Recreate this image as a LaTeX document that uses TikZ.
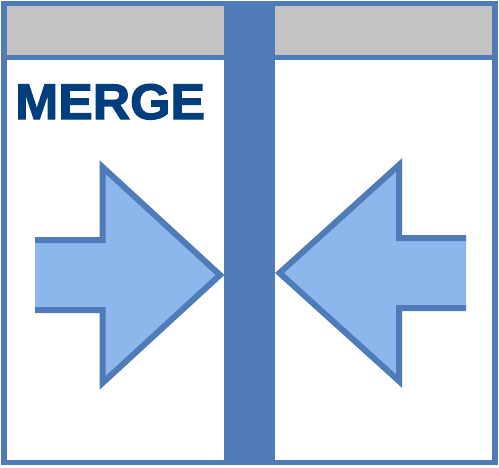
\documentclass[tikz,border=0pt]{standalone}
\usepackage{fontspec}
\setmainfont{Liberation Sans}
\newfontfamily\heavyfont[FakeBold=2.5,FakeStretch=1.035]{Liberation Sans Bold}
\definecolor{frameblue}{RGB}{79,124,184}
\definecolor{arrowfill}{RGB}{140,182,236}
\definecolor{headgray}{RGB}{195,195,195}
\definecolor{textblue}{RGB}{0,62,126}
\begin{document}
\begin{tikzpicture}[x=1pt,y=-1pt,
  panel/.style={fill=white},
  header/.style={fill=headgray},
  arrowbody/.style={fill=arrowfill},
  arrowline/.style={draw=frameblue,line width=6pt,line join=miter,miter limit=10}]
\useasboundingbox (0,0) rectangle (499,467);
% outer blue frame
\fill[frameblue] (1,1) rectangle (498,465);
% left column
\fill[header] (7,6) rectangle (224,55);
\fill[panel] (7,60) rectangle (224,460);
% right column
\fill[header] (275,6) rectangle (492,55);
\fill[panel] (275,60) rectangle (492,460);
% title
\node[anchor=base west,inner sep=0pt,text=textblue,font=\fontsize{50}{50}\heavyfont] (title) at (15,119) {MERGE};
% left arrow
\fill[arrowbody] (35,240) -- (102.5,240) -- (102.5,167) -- (220,275) -- (102.5,383) -- (102.5,310) -- (35,310) -- cycle;
\draw[arrowline] (35,240) -- (102.5,240) -- (102.5,167) -- (220,275) -- (102.5,383) -- (102.5,310) -- (35,310);
% right arrow
\fill[arrowbody] (466,238) -- (399,238) -- (399,165) -- (279.5,273) -- (399,381) -- (399,308) -- (466,308) -- cycle;
\draw[arrowline] (466,238) -- (399,238) -- (399,165) -- (279.5,273) -- (399,381) -- (399,308) -- (466,308);
\end{tikzpicture}
\end{document}
